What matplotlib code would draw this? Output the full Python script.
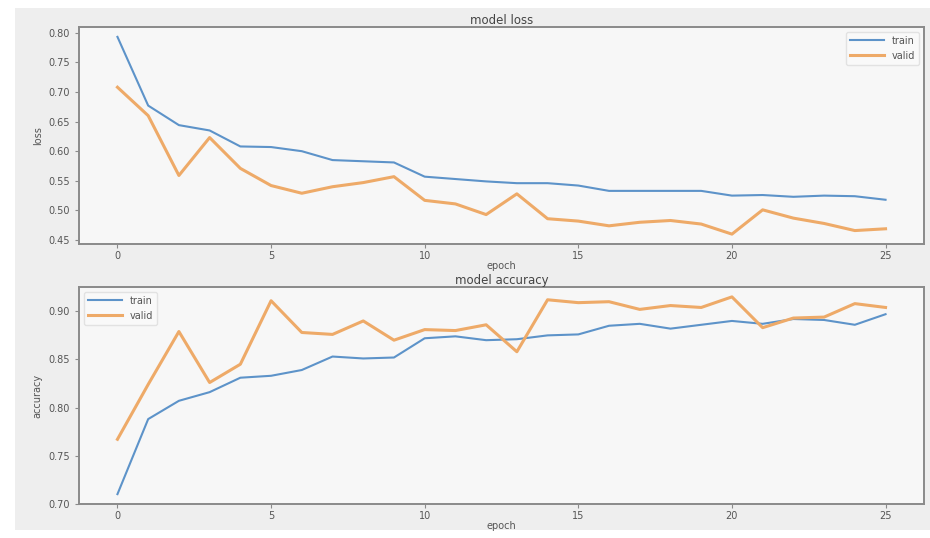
import numpy as np
import matplotlib.pyplot as plt
from matplotlib.patches import Rectangle

# Training history
epochs = np.arange(26)

train_loss = [0.793, 0.677, 0.644, 0.635, 0.608, 0.607, 0.600, 0.585, 0.583, 0.581,
              0.557, 0.553, 0.549, 0.546, 0.546, 0.542, 0.533, 0.533, 0.533, 0.533,
              0.525, 0.526, 0.523, 0.525, 0.524, 0.518]
valid_loss = [0.708, 0.660, 0.559, 0.623, 0.571, 0.542, 0.529, 0.540, 0.547, 0.557,
              0.517, 0.511, 0.493, 0.528, 0.486, 0.482, 0.474, 0.480, 0.483, 0.477,
              0.460, 0.501, 0.487, 0.478, 0.466, 0.469]

train_acc = [0.710, 0.788, 0.807, 0.816, 0.831, 0.833, 0.839, 0.853, 0.851, 0.852,
             0.872, 0.874, 0.870, 0.871, 0.875, 0.876, 0.885, 0.887, 0.882, 0.886,
             0.890, 0.887, 0.892, 0.891, 0.886, 0.897]
valid_acc = [0.767, 0.824, 0.879, 0.826, 0.845, 0.911, 0.878, 0.876, 0.890, 0.870,
             0.881, 0.880, 0.886, 0.858, 0.912, 0.909, 0.910, 0.902, 0.906, 0.904,
             0.915, 0.883, 0.893, 0.894, 0.908, 0.904]

text_color = "#555555"
blue = "#5d93c9"
orange = "#eeaa68"

fig = plt.figure(figsize=(9.3, 5.38), dpi=100, facecolor="white")
# grey figure area inside the white screenshot margin
fig.patches.append(
    Rectangle((15 / 930, 8 / 538), 915 / 930, 522 / 538, transform=fig.transFigure,
              facecolor="#eeeeee", edgecolor="none", zorder=-10)
)

ax_loss = fig.add_axes([0.085, 0.5465, 0.9085, 0.4033])
ax_acc = fig.add_axes([0.085, 0.0632, 0.9085, 0.4033])


def style_axes(ax, title, ylabel, legend_loc):
    ax.set_facecolor("#f7f7f7")
    for spine in ax.spines.values():
        spine.set_color("#8a8a8a")
        spine.set_linewidth(1.4)
    ax.tick_params(colors=text_color, labelsize=7, length=3, color="#8a8a8a")
    ax.tick_params(axis="x", pad=2)
    ax.set_title(title, fontsize=8.5, color="#444444", pad=2)
    ax.set_ylabel(ylabel, fontsize=7, color=text_color, labelpad=4)
    ax.set_xlabel("epoch", fontsize=7, color=text_color, labelpad=0)
    ax.set_xticks([0, 5, 10, 15, 20, 25])
    leg = ax.legend(loc=legend_loc, fontsize=7, frameon=True, handlelength=3.5)
    leg.get_frame().set_facecolor("#fafafa")
    leg.get_frame().set_edgecolor("#dddddd")
    for t in leg.get_texts():
        t.set_color(text_color)


ax_loss.plot(epochs, train_loss, color=blue, lw=1.5, label="train")
ax_loss.plot(epochs, valid_loss, color=orange, lw=2.2, label="valid")
ax_loss.set_yticks(np.arange(0.45, 0.801, 0.05))
style_axes(ax_loss, "model loss", "loss", "upper right")

ax_acc.plot(epochs, train_acc, color=blue, lw=1.5, label="train")
ax_acc.plot(epochs, valid_acc, color=orange, lw=2.2, label="valid")
ax_acc.set_yticks(np.arange(0.70, 0.901, 0.05))
style_axes(ax_acc, "model accuracy", "accuracy", "upper left")

fig.savefig("out.png", dpi=100)
